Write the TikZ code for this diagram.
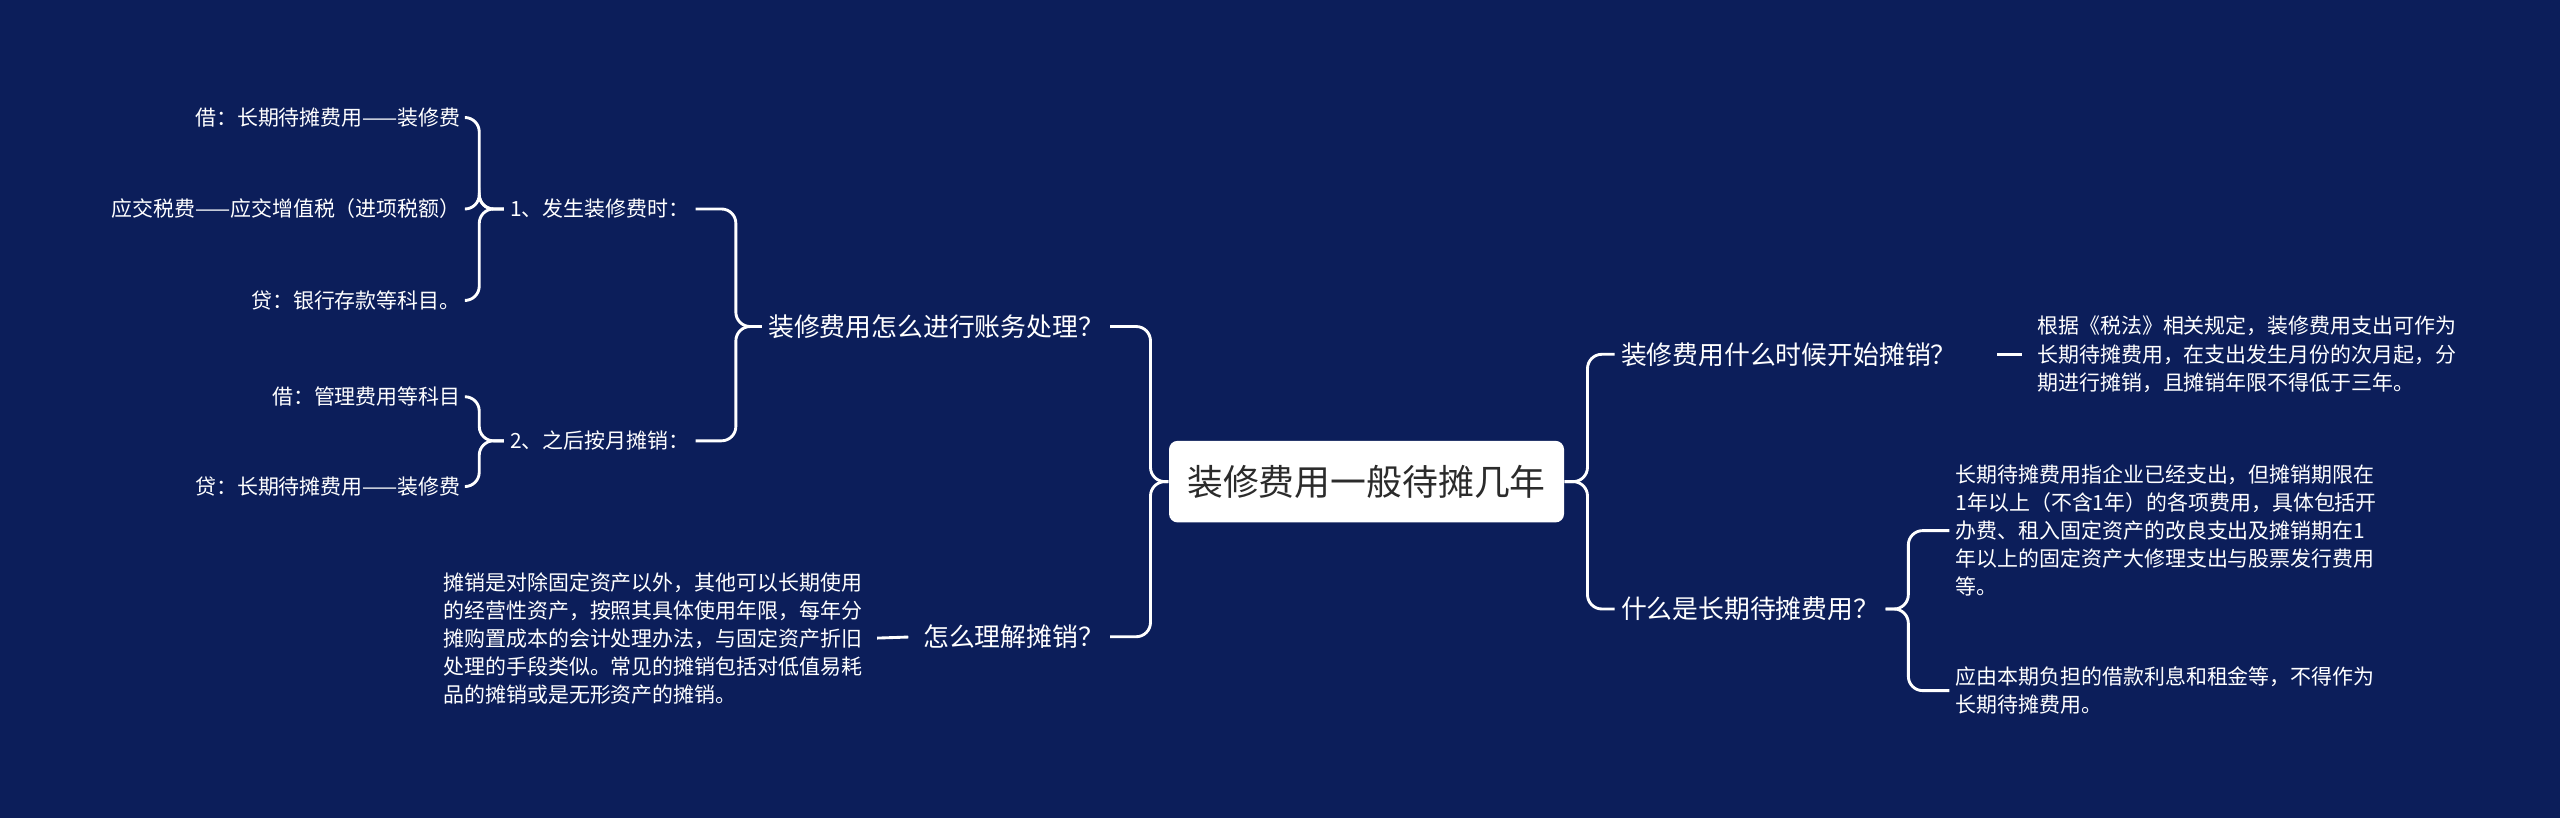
\documentclass[tikz,border=0pt]{standalone}
\usepackage{fontspec}
\setmainfont{Noto Sans CJK SC}
\definecolor{bgblue}{HTML}{0C1E5A}
\definecolor{roottext}{HTML}{2B2B2B}
\tikzset{
    link/.style={draw=white, line width=1pt, rounded corners=5pt},
    rootbox/.style={fill=white, rounded corners=3pt, text=roottext,
        minimum width=4.84cm, minimum height=1cm, font=\fontsize{12.5}{14}\selectfont},
    topic/.style={text=white, inner sep=2pt, font=\fontsize{9}{11}\selectfont},
    leaf/.style={text=white, inner sep=2pt, align=left, font=\fontsize{7.3}{9.8}\selectfont},
}
\begin{document}
\begin{tikzpicture}[x=0.02cm, y=-0.02cm]
    \useasboundingbox [fill=bgblue] (0, 0) rectangle (1568, 501);

    \node [rootbox] (root) at (837, 295) {装修费用一般待摊几年};

    % right side
    \node [topic, anchor=west] (when) at (989, 217) {装修费用什么时候开始摊销？};
    \node [topic, anchor=west] (what) at (989, 373) {什么是长期待摊费用？};
    \node [leaf, anchor=west] (taxrule) at (1244, 217)
        {根据《税法》相关规定，装修费用支出可作为\\长期待摊费用，在支出发生月份的次月起，分\\期进行摊销，且摊销年限不得低于三年。};
    \node [leaf, anchor=west] (define) at (1194, 325)
        {长期待摊费用指企业已经支出，但摊销期限在\\1年以上（不含1年）的各项费用，具体包括开\\办费、租入固定资产的改良支出及摊销期在1\\年以上的固定资产大修理支出与股票发行费用\\等。};
    \node [leaf, anchor=west] (exclude) at (1194, 423)
        {应由本期负担的借款利息和租金等，不得作为\\长期待摊费用。};

    % left side
    \node [topic, anchor=east] (account) at (680, 200) {装修费用怎么进行账务处理？};
    \node [topic, anchor=east] (amort) at (680, 390) {怎么理解摊销？};
    \node [leaf, anchor=east] (explain) at (532, 391)
        {摊销是对除固定资产以外，其他可以长期使用\\的经营性资产，按照其具体使用年限，每年分\\摊购置成本的会计处理办法，与固定资产折旧\\处理的手段类似。常见的摊销包括对低值易耗\\品的摊销或是无形资产的摊销。};
    \node [leaf, anchor=east] (step1) at (426, 128) {1、发生装修费时：};
    \node [leaf, anchor=east] (step2) at (426, 270) {2、之后按月摊销：};
    \node [leaf, anchor=east] (debit1) at (286, 72) {借：长期待摊费用——装修费};
    \node [leaf, anchor=east] (vat) at (286, 128) {应交税费——应交增值税（进项税额）};
    \node [leaf, anchor=east] (credit1) at (286, 184) {贷：银行存款等科目。};
    \node [leaf, anchor=east] (debit2) at (286, 243) {借：管理费用等科目};
    \node [leaf, anchor=east] (credit2) at (286, 298) {贷：长期待摊费用——装修费};

    \foreach \kid in {when, what}
        \draw [link] (root.east) -- ++(14, 0) |- (\kid.west);
    \foreach \kid in {account, amort}
        \draw [link] (root.west) -- ++(-11, 0) |- (\kid.east);
    \foreach \kid in {define, exclude}
        \draw [link] (what.east) -- ++(14, 0) |- (\kid.west);
    \foreach \kid in {step1, step2}
        \draw [link] (account.east) ++(0, 0) (account.west) -- ++(-16, 0) |- (\kid.east);
    \foreach \kid in {debit1, vat, credit1}
        \draw [link] (step1.west) -- ++(-15, 0) |- (\kid.east);
    \foreach \kid in {debit2, credit2}
        \draw [link] (step2.west) -- ++(-15, 0) |- (\kid.east);
    \draw [link, shorten <=12pt, shorten >=3pt] (when.east) -- (taxrule.west);
    \draw [link, shorten <=3pt, shorten >=3pt] (amort.west) -- (explain.east);
\end{tikzpicture}
\end{document}
